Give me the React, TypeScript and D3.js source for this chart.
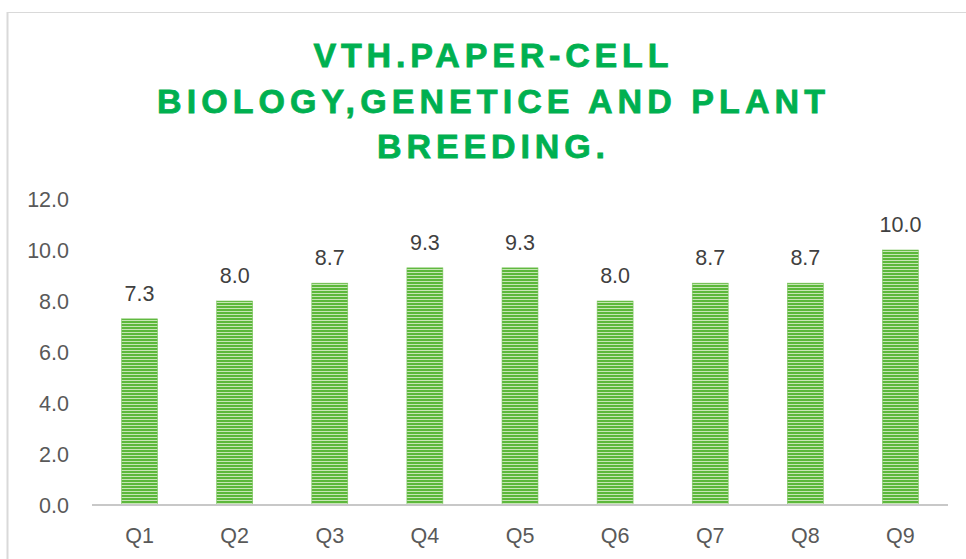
import React, { useEffect, useRef } from 'react';
import * as d3 from 'd3';

const categories = ['Q1', 'Q2', 'Q3', 'Q4', 'Q5', 'Q6', 'Q7', 'Q8', 'Q9'];
const scores = [7.3, 8.0, 8.7, 9.3, 9.3, 8.0, 8.7, 8.7, 10.0];
const yTicks = [0, 2, 4, 6, 8, 10, 12];
const titleLines = ['VTH.PAPER-CELL', 'BIOLOGY,GENETICE AND PLANT', 'BREEDING.'];
const titleWidths = [355, 668, 228];

export default function App() {
    const ref = useRef<SVGSVGElement>(null);

    useEffect(() => {
        if (!ref.current) return;
        const svg = d3.select(ref.current);
        svg.selectAll('*').remove();

        const width = 966, height = 559;
        const font = '"Liberation Sans", Arial, sans-serif';

        // frame (only top and left edges visible)
        svg.append('rect').attr('width', width).attr('height', height).attr('fill', '#fff');
        svg.append('line').attr('x1', 7).attr('x2', width).attr('y1', 12.5).attr('y2', 12.5)
            .attr('stroke', '#d9d9d9').attr('stroke-width', 1);
        svg.append('line').attr('x1', 7.5).attr('x2', 7.5).attr('y1', 12).attr('y2', height)
            .attr('stroke', '#d9d9d9').attr('stroke-width', 2);

        // striped fill
        const defs = svg.append('defs');
        const pat = defs.append('pattern').attr('id', 'stripes')
            .attr('patternUnits', 'userSpaceOnUse').attr('width', 8).attr('height', 3);
        pat.append('rect').attr('width', 8).attr('height', 3).attr('fill', '#c6e6b4');
        pat.append('rect').attr('width', 8).attr('height', 2).attr('fill', '#5cb83b');

        // title
        const title = svg.append('g');
        titleLines.forEach((t, i) => {
            title.append('text')
                .attr('x', 491).attr('y', 67 + i * 45.5)
                .attr('text-anchor', 'middle')
                .attr('textLength', titleWidths[i])
                .attr('lengthAdjust', 'spacing')
                .attr('font-family', '"Liberation Sans", Arial, sans-serif')
                .attr('font-weight', 700)
                .attr('font-size', 34)
                .attr('fill', '#00b050')
                .attr('stroke', '#00b050').attr('stroke-width', 0.8)
                .text(t);
        });

        const x = d3.scaleBand().domain(categories).range([92, 948]).paddingInner(0.622).paddingOuter(0.311);
        const y = d3.scaleLinear().domain([0, 12]).range([505, 199]);

        // y tick labels
        svg.append('g').selectAll('text').data(yTicks).enter().append('text')
            .attr('x', 69).attr('y', d => y(d))
            .attr('dy', '0.36em')
            .attr('text-anchor', 'end')
            .attr('font-family', font).attr('font-size', 21.5)
            .attr('fill', '#595959')
            .text(d => d.toFixed(1));

        // bars
        svg.append('g').selectAll('rect').data(scores).enter().append('rect')
            .attr('x', (d, i) => x(categories[i]) as number)
            .attr('y', d => y(d))
            .attr('width', x.bandwidth())
            .attr('height', d => y(0) - y(d))
            .attr('fill', 'url(#stripes)')
            .attr('stroke', '#7cc45e').attr('stroke-width', 0.6);

        // data labels
        svg.append('g').selectAll('text').data(scores).enter().append('text')
            .attr('x', (d, i) => (x(categories[i]) as number) + x.bandwidth() / 2)
            .attr('y', d => y(d) - 18)
            .attr('text-anchor', 'middle')
            .attr('font-family', font).attr('font-size', 21.5)
            .attr('fill', '#404040')
            .text(d => d.toFixed(1));

        // x axis line
        svg.append('line').attr('x1', 92).attr('x2', 948).attr('y1', y(0)).attr('y2', y(0))
            .attr('stroke', '#c8c8c8').attr('stroke-width', 2);

        // category labels
        svg.append('g').selectAll('text').data(categories).enter().append('text')
            .attr('x', d => (x(d) as number) + x.bandwidth() / 2)
            .attr('y', 543)
            .attr('text-anchor', 'middle')
            .attr('font-family', font).attr('font-size', 21.5)
            .attr('fill', '#595959')
            .text(d => d);
    }, []);

    return (
        <svg ref={ref} width={966} height={559}
            style={{ position: 'fixed', left: 0, top: 0, display: 'block' }} />
    );
}
